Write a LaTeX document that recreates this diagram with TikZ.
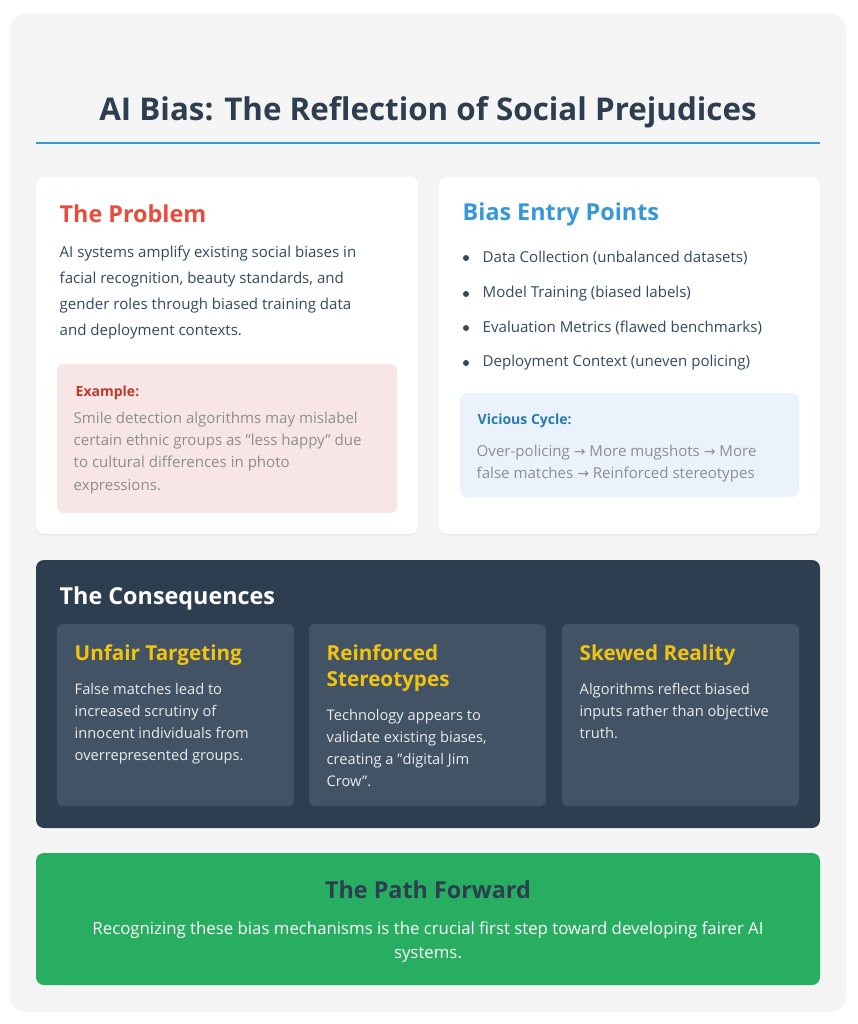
\documentclass[tikz,border=0pt]{standalone}
\usepackage{fontspec}
\setmainfont{Open Sans}
\newfontfamily\arr{DejaVu Sans}
\usetikzlibrary{shadows}
\definecolor{dark}{HTML}{2C3E50}
\definecolor{txt}{HTML}{34495E}
\definecolor{red1}{HTML}{E74C3C}
\definecolor{red2}{HTML}{C0392B}
\definecolor{blue1}{HTML}{3498DB}
\definecolor{grey1}{HTML}{8E8E8E}
\definecolor{pinkbg}{HTML}{F8E6E6}
\definecolor{bluebg}{HTML}{EAF3FB}
\definecolor{sub}{HTML}{435366}
\definecolor{yel}{HTML}{F1C40F}
\definecolor{green1}{HTML}{27AE60}
\newcommand{\qq}{\char"22\relax}
\newcommand{\ra}{{\arr\fontsize{10.5}{16}\selectfont →}}
\begin{document}
\begin{tikzpicture}[x=0.75pt,y=-0.75pt,
 card/.style={fill=white,rounded corners=6pt,drop shadow={opacity=0.12,shadow xshift=0pt,shadow yshift=-1pt}},
 h2/.style={anchor=west,font=\fontsize{17.5}{20}\selectfont\bfseries},
 body/.style={anchor=west,font=\fontsize{11.3}{19.5}\selectfont,text=txt,align=left},
 small/.style={anchor=west,font=\fontsize{11.3}{16.5}\selectfont,align=left},
 sbody/.style={anchor=north west,font=\fontsize{11}{16.5}\selectfont,text=white!92!black,align=left}]
\useasboundingbox (0,0) rectangle (857,1024);
\fill[white] (0,0) rectangle (857,1024);
\fill[black!4,rounded corners=12pt,drop shadow={opacity=0.1,shadow xshift=0pt,shadow yshift=0pt}] (10,14) rectangle (846,1012);
\node[font=\fontsize{23.5}{28}\selectfont\bfseries,text=dark] (title) at (428,112) {AI Bias: The Reflection of Social Prejudices};
\draw[blue1,line width=1.5pt] (36,143) -- (820,143);
% problem
\path[card] (36,177) rectangle (418,534);
\node[h2,text=red1] (p1) at (55,214) {The Problem};
\node[body,anchor=north west] (p2) at (55,241) {AI systems amplify existing social biases in\\facial recognition, beauty standards, and\\gender roles through biased training data\\and deployment contexts.};
\fill[pinkbg,rounded corners=5pt] (57,364) rectangle (397,513);
\node[small,text=red2,font=\fontsize{10.5}{13}\selectfont\bfseries] (ex) at (71,393) {Example:};
\node[small,text=grey1,anchor=north west,font=\fontsize{11.3}{16.8}\selectfont] (ext) at (69,407) {Smile detection algorithms may mislabel\\certain ethnic groups as \qq less happy\qq{} due\\to cultural differences in photo\\expressions.};
% bias
\path[card] (439,177) rectangle (820,534);
\node[h2,text=blue1] (b1) at (458,214) {Bias Entry Points};
\foreach \y/\t [count=\i] in {258/Data Collection (unbalanced datasets),294/Model Training (biased labels),328/Evaluation Metrics (flawed benchmarks),363/Deployment Context (uneven policing)}{
 \fill[txt] (466,\y) circle (3);
 \node[body] (bl\i) at (478,\y) {\t};}
\fill[bluebg,rounded corners=5pt] (460,393) rectangle (799,497);
\node[small,text=blue1!80!black,font=\fontsize{10.5}{13}\selectfont\bfseries] (vc) at (473,421) {Vicious Cycle:};
\node[small,text=grey1,anchor=north west,font=\fontsize{11.3}{16.8}\selectfont] (vct) at (472,440) {Over-policing \ra{} More mugshots \ra{} More\\false matches \ra{} Reinforced stereotypes};
% consequences
\fill[dark,rounded corners=6pt] (36,560) rectangle (820,828);
\node[h2,text=white] (c0) at (55,598) {The Consequences};
\foreach \x/\n in {57/c1,309/c2,562/c3}{\fill[sub,rounded corners=4pt] (\x,624) rectangle ++(237,182);}
\node[h2,text=yel,anchor=north west,align=left,font=\fontsize{15.5}{19.5}\selectfont\bfseries] (t1) at (70,640) {Unfair Targeting};
\node[h2,text=yel,anchor=north west,align=left,font=\fontsize{15.5}{19.5}\selectfont\bfseries] (t2) at (322,640) {Reinforced\\Stereotypes};
\node[h2,text=yel,anchor=north west,align=left,font=\fontsize{15.5}{19.5}\selectfont\bfseries] (t3) at (575,640) {Skewed Reality};
\node[sbody] (d1) at (70,679) {False matches lead to\\increased scrutiny of\\innocent individuals from\\overrepresented groups.};
\node[sbody] (d2) at (322,705) {Technology appears to\\validate existing biases,\\creating a \qq digital Jim\\Crow\qq.};
\node[sbody] (d3) at (575,679) {Algorithms reflect biased\\inputs rather than objective\\truth.};
% path forward
\fill[green1,rounded corners=6pt] (36,853) rectangle (820,985);
\node[font=\fontsize{17.5}{20}\selectfont\bfseries,text=dark] (g1) at (428,890) {The Path Forward};
\node[font=\fontsize{12.6}{17.5}\selectfont,text=white,align=center] (g2) at (428,942) {Recognizing these bias mechanisms is the crucial first step toward developing fairer AI\\systems.};
\end{tikzpicture}
\end{document}
